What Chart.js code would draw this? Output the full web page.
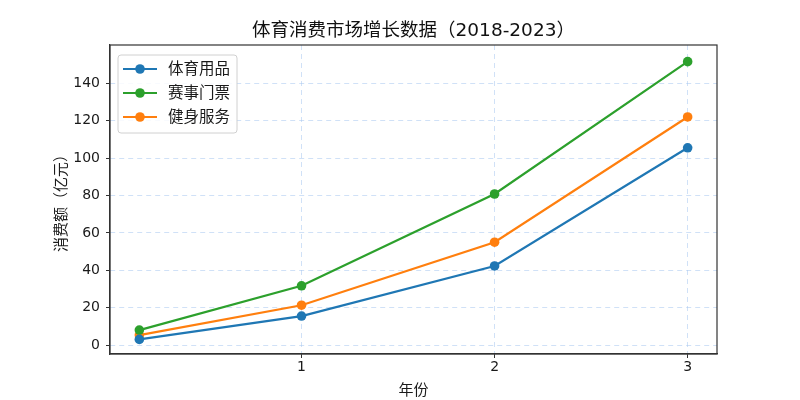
<!DOCTYPE html>
<html>
<head>
<meta charset="utf-8">
<script src="https://cdn.jsdelivr.net/npm/chart.js@4.4.0/dist/chart.umd.min.js"></script>
<style>
    body { margin: 0; background: #fff; }
    #wrap { width: 800px; height: 400px; }
</style>
</head>
<body>
<div id="wrap"><canvas id="chart" width="800" height="400"></canvas></div>
<script>
var years = [0.16, 1, 2, 3];
var seriesNames = ["体育用品", "赛事门票", "健身服务"];
var sportsGoods = [3.0, 15.5, 42.3, 105.5];
var eventTickets = [8.0, 31.7, 80.8, 151.6];
var fitnessServices = [5.3, 21.3, 55.0, 122.0];
var xTicks = [1, 2, 3];
var yTicks = [0, 20, 40, 60, 80, 100, 120, 140];
var colors = ["#1f77b4", "#2ca02c", "#ff7f0e"];

var fontFam = "'DejaVu Sans', 'Noto Sans CJK SC', sans-serif";
var gridColor = "rgba(170,200,240,0.55)";

function toPoints(vals)
{
    var pts = [];
    for (var i = 0; i < vals.length; i++) {
        pts.push({x: years[i], y: vals[i]});
    }
    return pts;
}

function makeSet(label, vals, color)
{
    return {
        label: label,
        data: toPoints(vals),
        borderColor: color,
        backgroundColor: color,
        borderWidth: 2.2,
        pointRadius: 4.8,
        pointHoverRadius: 4.8,
        pointBorderWidth: 0,
        tension: 0,
        fill: false
    };
}

// frame round the plot + legend box in the top left corner
var framePlugin = {
    id: 'frame',
    afterDraw: function(chart) {
        var c = chart.ctx;
        var a = chart.chartArea;
        c.save();
        c.strokeStyle = "#333";
        c.lineWidth = 1.2;
        c.strokeRect(a.left, a.top, a.right - a.left, a.bottom - a.top);

        // legend
        var bx = 118, by = 55, bw = 119, bh = 78;
        c.beginPath();
        c.roundRect(bx, by, bw, bh, 3);
        c.fillStyle = "rgba(255,255,255,0.85)";
        c.fill();
        c.strokeStyle = "#d0d0d0";
        c.lineWidth = 1;
        c.stroke();
        var rows = [69, 93, 117];
        c.font = "15.5px " + fontFam;
        c.textBaseline = "middle";
        for (var i = 0; i < chart.data.datasets.length; i++) {
            var ds = chart.data.datasets[i];
            c.strokeStyle = ds.borderColor;
            c.lineWidth = 2.2;
            c.beginPath();
            c.moveTo(123, rows[i]);
            c.lineTo(157, rows[i]);
            c.stroke();
            c.fillStyle = ds.borderColor;
            c.beginPath();
            c.arc(140, rows[i], 4.8, 0, Math.PI * 2);
            c.fill();
            c.fillStyle = "#1a1a1a";
            c.fillText(ds.label, 168, rows[i] + 1);
        }
        c.restore();
    }
};

var ctx = document.getElementById("chart");
var myChart = new Chart(ctx, {
    type: 'line',
    data: {
        datasets: [
            makeSet(seriesNames[0], sportsGoods, colors[0]),
            makeSet(seriesNames[1], eventTickets, colors[1]),
            makeSet(seriesNames[2], fitnessServices, colors[2])
        ]
    },
    options: {
        responsive: false,
        animation: false,
        layout: { padding: { left: 0, right: 83, top: 0, bottom: 0 } },
        plugins: {
            legend: { display: false },
            tooltip: { enabled: false },
            title: {
                display: true,
                text: "体育消费市场增长数据（2018-2023）",
                color: "#111",
                font: { family: fontFam, size: 18.5, weight: 'normal' },
                padding: { top: 20.5, bottom: 2.3 },
                fullSize: false
            }
        },
        scales: {
            x: {
                type: 'linear',
                min: 0.008,
                max: 3.152,
                afterBuildTicks: function(s) {
                    s.ticks = xTicks.map(function(v) { return {value: v}; });
                },
                afterFit: function(s) { s.height = 46; },
                ticks: {
                    color: "#1a1a1a",
                    padding: 1,
                    font: { family: fontFam, size: 14 }
                },
                grid: {
                    color: gridColor,
                    tickColor: "#333",
                    tickLength: 4,
                    tickWidth: 1
                },
                border: { color: "#333", width: 1.2, dash: [5, 4] },
                title: {
                    display: true,
                    text: "年份",
                    color: "#1a1a1a",
                    font: { family: fontFam, size: 15 },
                    padding: { top: 4, bottom: 0 }
                }
            },
            y: {
                min: -4.8,
                max: 160.5,
                afterBuildTicks: function(s) {
                    s.ticks = yTicks.map(function(v) { return {value: v}; });
                },
                afterFit: function(s) { s.width = 110; },
                ticks: {
                    color: "#1a1a1a",
                    padding: 6,
                    font: { family: fontFam, size: 14 }
                },
                grid: {
                    color: gridColor,
                    tickColor: "#333",
                    tickLength: 4,
                    tickWidth: 1
                },
                border: { color: "#333", width: 1.2, dash: [5, 4] },
                title: {
                    display: true,
                    text: "消费额（亿元）",
                    color: "#1a1a1a",
                    font: { family: fontFam, size: 15 },
                    padding: { top: 53, bottom: 0 }
                }
            }
        }
    },
    plugins: [framePlugin]
});
</script>
</body>
</html>
